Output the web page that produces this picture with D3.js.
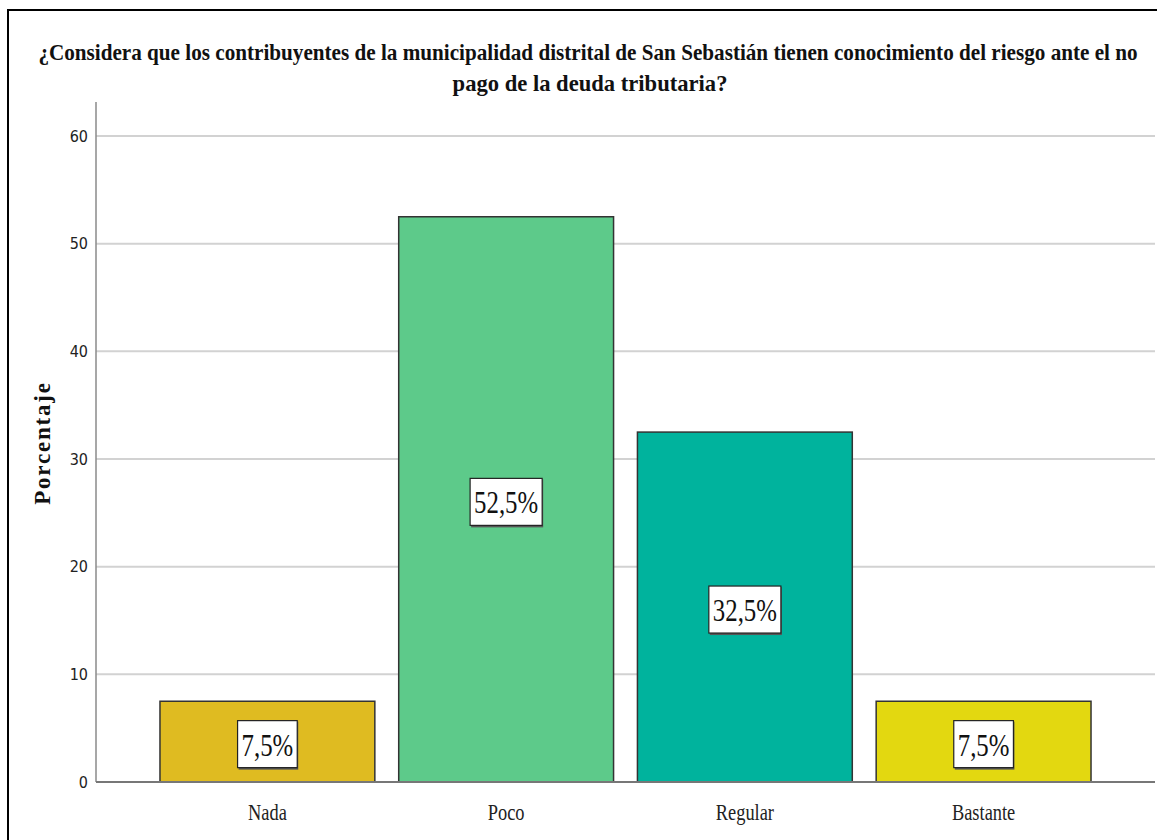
<!DOCTYPE html>
<html><head><meta charset="utf-8">
<script src="https://cdn.jsdelivr.net/npm/d3@7"></script>
<style>html,body{margin:0;padding:0;background:#fff;}svg{display:block;}</style>
</head><body>
<svg id="chart" width="1157" height="840"></svg>
<script>
const titleLines = ["¿Considera que los contribuyentes de la municipalidad distrital de San Sebastián tienen conocimiento del riesgo ante el no", "pago de la deuda tributaria?"];
const categories = ["Nada", "Poco", "Regular", "Bastante"];
const values = [7.5, 52.5, 32.5, 7.5];
const valueLabels = ["7,5%", "52,5%", "32,5%", "7,5%"];
const colors = ["#dfbb21", "#5dca8a", "#00b39d", "#e3d810"];
const yTicks = [0, 10, 20, 30, 40, 50, 60];
const yLabel = "Porcentaje";

const svg = d3.select("#chart");
const W = 1157, H = 840;
svg.append("rect").attr("width", W).attr("height", H).attr("fill", "#fff");

// frame
svg.append("line").attr("x1", 8).attr("x2", W).attr("y1", 10).attr("y2", 10).attr("stroke", "#000").attr("stroke-width", 2);
svg.append("line").attr("x1", 8).attr("x2", 8).attr("y1", 9).attr("y2", H).attr("stroke", "#000").attr("stroke-width", 2);

const x0 = 96, x1 = 1155, yBase = 782;
const y = d3.scaleLinear().domain([0, 60]).range([yBase, 136]);
const x = d3.scaleBand().domain(categories).range([x0, x1]).paddingInner(0.1).paddingOuter(0.268);

const SERIF = "'Liberation Serif', 'Times New Roman', serif";

// horizontally-scaled text: text drawn at origin, group translated and scaled
function scaledText(parent, cx, cy, str, size, opts) {
  const g = parent.append("g");
  const t = g.append("text").attr("text-anchor", "middle").attr("font-family", opts.family || SERIF)
    .attr("font-size", size).attr("fill", opts.fill || "#111").text(str);
  if (opts.weight) t.attr("font-weight", opts.weight);
  const len = t.node().getComputedTextLength();
  const s = opts.width ? opts.width / len : (opts.factor || 1);
  g.attr("transform", `translate(${cx},${cy}) scale(${s},1)`);
  return g;
}

// title
scaledText(svg, 588, 60, titleLines[0], 24, {weight: "bold", width: 1100});
scaledText(svg, 590, 91, titleLines[1], 24, {weight: "bold", width: 275});

// gridlines
svg.append("g").selectAll("line").data(yTicks.filter(d => d > 0)).join("line")
  .attr("x1", x0).attr("x2", x1).attr("y1", d => y(d)).attr("y2", d => y(d))
  .attr("stroke", "#d2d2d2").attr("stroke-width", 2);

// y axis
const yAxis = svg.append("g").attr("transform", `translate(${x0},0)`)
  .call(d3.axisLeft(y).tickValues(yTicks).tickSize(0).tickPadding(8));
yAxis.select(".domain").remove();
yAxis.selectAll("text").attr("font-family", "'DejaVu Sans Condensed', sans-serif").attr("font-size", 16).attr("fill", "#222");
svg.append("line").attr("x1", x0).attr("x2", x0).attr("y1", 102).attr("y2", yBase).attr("stroke", "#8a8a8a").attr("stroke-width", 1.5);

// y label
svg.append("text").attr("transform", `translate(50,443) rotate(-90)`).attr("text-anchor", "middle")
  .attr("font-family", SERIF).attr("font-weight", "bold").attr("font-size", 23).attr("fill", "#111")
  .attr("letter-spacing", 1.8).text(yLabel);

// bars
const data = categories.map((c, i) => ({c, v: values[i], lab: valueLabels[i], col: colors[i]}));
svg.append("g").selectAll("rect").data(data).join("rect")
  .attr("x", d => x(d.c)).attr("width", x.bandwidth())
  .attr("y", d => y(d.v)).attr("height", d => yBase - y(d.v))
  .attr("fill", d => d.col).attr("stroke", "#333").attr("stroke-width", 1.5);

// baseline
svg.append("line").attr("x1", x0).attr("x2", x1).attr("y1", yBase).attr("y2", yBase).attr("stroke", "#777").attr("stroke-width", 2);

// value labels
const lg = svg.append("g");
data.forEach(d => {
  const cx = x(d.c) + x.bandwidth() / 2;
  const cy = (y(d.v) + yBase) / 2 + 3;
  const g = lg.append("g");
  const tg = scaledText(g, cx, cy + 11, d.lab, 31, {factor: 0.8});
  const w = tg.node().getBBox().width * 0.8 + 8;
  g.insert("rect", "g").attr("x", cx - w / 2 + 1).attr("y", cy - 23).attr("width", w).attr("height", 48).attr("fill", "#555");
  g.insert("rect", "g").attr("x", cx - w / 2).attr("y", cy - 24).attr("width", w).attr("height", 47).attr("fill", "#fff").attr("stroke", "#222").attr("stroke-width", 1.2);
});

// x labels
const xg = svg.append("g");
categories.forEach(c => {
  scaledText(xg, x(c) + x.bandwidth() / 2, 820, c, 23, {factor: 0.8, fill: "#222"});
});
</script>
</body></html>
